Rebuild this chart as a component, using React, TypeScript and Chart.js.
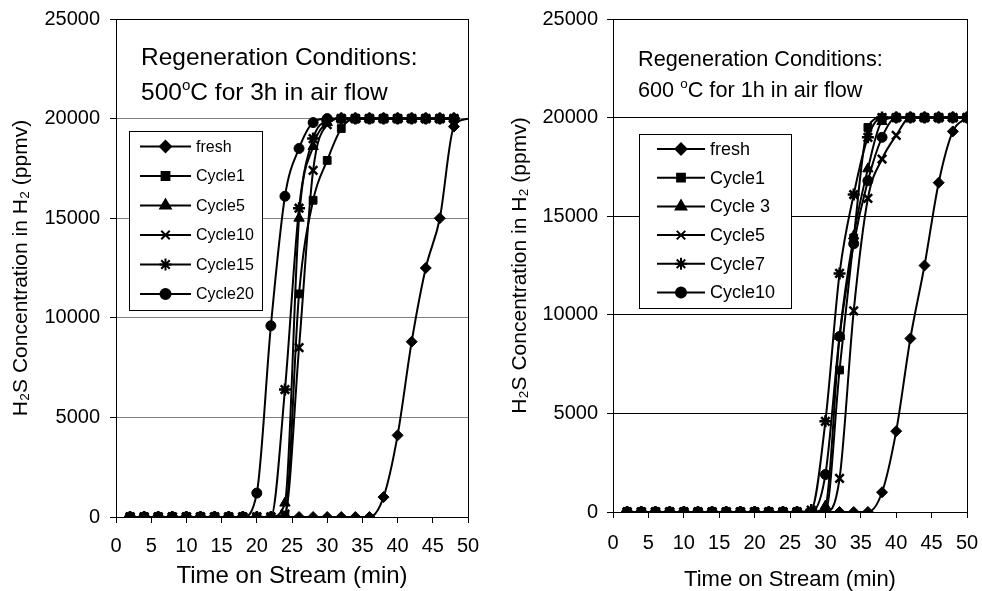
import React, { useEffect, useRef } from "react";
import { Chart, registerables } from "chart.js";
import { drawPoint } from "chart.js/helpers";

Chart.register(...registerables);

// ---------------- data ----------------
const leftTimes = [2, 4, 6, 8, 10, 12, 14, 16, 18, 20, 22, 24, 26, 28, 30, 32, 34, 36, 38, 40, 42, 44, 46, 48];
const leftFreshTimes = [2, 4, 6, 8, 10, 12, 14, 16, 18, 20, 22, 24, 26, 28, 30, 32, 34, 36, 38, 40, 42, 44, 46, 48, 50];
const leftFresh = [0, 0, 0, 0, 0, 0, 0, 0, 0, 0, 0, 0, 0, 0, 0, 0, 0, 0, 1000, 4100, 8800, 12500, 15000, 19600, 20000];
const leftCycle1 = [0, 0, 0, 0, 0, 0, 0, 0, 0, 0, 0, 100, 11200, 15900, 17900, 19500, 20000, 20000, 20000, 20000, 20000, 20000, 20000, 20000];
const leftCycle5 = [0, 0, 0, 0, 0, 0, 0, 0, 0, 0, 0, 700, 15000, 18600, 19800, 20000, 20000, 20000, 20000, 20000, 20000, 20000, 20000, 20000];
const leftCycle10 = [0, 0, 0, 0, 0, 0, 0, 0, 0, 0, 0, 150, 8500, 17400, 19700, 20000, 20000, 20000, 20000, 20000, 20000, 20000, 20000, 20000];
const leftCycle15 = [0, 0, 0, 0, 0, 0, 0, 0, 0, 0, 0, 6400, 15500, 19000, 19900, 20000, 20000, 20000, 20000, 20000, 20000, 20000, 20000, 20000];
const leftCycle20 = [0, 0, 0, 0, 0, 0, 0, 0, 0, 1200, 9600, 16100, 18500, 19800, 20000, 20000, 20000, 20000, 20000, 20000, 20000, 20000, 20000, 20000];
const leftLabels = ["fresh", "Cycle1", "Cycle5", "Cycle10", "Cycle15", "Cycle20"];

const rightTimes = [2, 4, 6, 8, 10, 12, 14, 16, 18, 20, 22, 24, 26, 28, 30, 32, 34, 36, 38, 40, 42, 44, 46, 48, 50];
const rightFresh = [0, 0, 0, 0, 0, 0, 0, 0, 0, 0, 0, 0, 0, 0, 0, 0, 0, 0, 1000, 4100, 8800, 12500, 16700, 19300, 20000];
const rightCycle1 = [0, 0, 0, 0, 0, 0, 0, 0, 0, 0, 0, 0, 0, 0, 0, 7200, 13900, 19500, 20000, 20000, 20000, 20000, 20000, 20000, 20000];
const rightCycle3 = [0, 0, 0, 0, 0, 0, 0, 0, 0, 0, 0, 0, 0, 0, 300, 8900, 14000, 17400, 19800, 20000, 20000, 20000, 20000, 20000, 20000];
const rightCycle5 = [0, 0, 0, 0, 0, 0, 0, 0, 0, 0, 0, 0, 0, 0, 0, 1700, 10200, 15900, 17900, 19100, 20000, 20000, 20000, 20000, 20000];
const rightCycle7 = [0, 0, 0, 0, 0, 0, 0, 0, 0, 0, 0, 0, 0, 100, 4600, 12100, 16100, 19000, 20000, 20000, 20000, 20000, 20000, 20000, 20000];
const rightCycle10 = [0, 0, 0, 0, 0, 0, 0, 0, 0, 0, 0, 0, 0, 0, 1900, 8900, 13600, 16800, 19000, 20000, 20000, 20000, 20000, 20000, 20000];
const rightLabels = ["fresh", "Cycle1", "Cycle 3", "Cycle5", "Cycle7", "Cycle10"];

const xTickMin = 0;
const xTickMax = 50;
const xTickStep = 5;
const yTickMin = 0;
const yTickMax = 25000;
const yTickStep = 5000;

const annotLine1 = "Regeneration Conditions:";
const leftAnnotPrefix = "500";
const leftAnnotSuffix = "C for 3h in air flow";
const rightAnnotPrefix = "600 ";
const rightAnnotSuffix = "C for 1h in air flow";
const xTitle = "Time on Stream (min)";
const yTitle = "H\u2082S Concentration in H\u2082 (ppmv)";

const FONT = '"Liberation Sans", Arial, Helvetica, sans-serif';
const markerStyles: any[] = ["rectRot", "rect", "triangle", "crossRot", "star", "circle"];
const markerRadius = [5.5, 5.5, 6, 6, 6, 5];
const markerBorder = [1, 1, 1, 2.5, 2.5, 1];

function pts(xs: number[], ys: number[]) {
  return ys.map((y, i) => ({ x: xs[i], y }));
}

const boxLegend = {
  id: "boxLegend",
  afterDatasetsDraw(chart: any, _a: any, o: any) {
    const ctx = chart.ctx;
    ctx.save();
    ctx.fillStyle = "#fff";
    ctx.fillRect(o.x, o.y, o.w, o.h);
    ctx.strokeStyle = "#000";
    ctx.lineWidth = 1;
    ctx.strokeRect(o.x + 0.5, o.y + 0.5, o.w, o.h);
    chart.data.datasets.forEach((ds: any, i: number) => {
      const ry = o.rowY0 + i * o.rowGap;
      ctx.strokeStyle = "#000";
      ctx.fillStyle = "#000";
      ctx.lineWidth = 2;
      ctx.beginPath();
      ctx.moveTo(o.lineX0, ry);
      ctx.lineTo(o.lineX1, ry);
      ctx.stroke();
      drawPoint(
        ctx,
        { pointStyle: ds.pointStyle, radius: markerRadius[i], borderWidth: markerBorder[i], rotation: 0 } as any,
        (o.lineX0 + o.lineX1) / 2,
        ry
      );
      ctx.fillStyle = "#000";
      ctx.font = `${o.size}px ${FONT}`;
      ctx.textAlign = "left";
      ctx.textBaseline = "middle";
      ctx.fillText(ds.label, o.textX, ry + 1);
    });
    ctx.restore();
  },
};

const frameAndText = {
  id: "frameAndText",
  afterDraw(chart: any, _a: any, o: any) {
    const ctx = chart.ctx;
    const ca = chart.chartArea;
    ctx.save();
    ctx.strokeStyle = "#000";
    ctx.lineWidth = 1;
    ctx.strokeRect(Math.round(ca.left) + 0.5, Math.round(ca.top) + 0.5, Math.round(ca.right - ca.left), Math.round(ca.bottom - ca.top));
    ctx.fillStyle = "#000";
    ctx.textAlign = "left";
    ctx.textBaseline = "alphabetic";
    ctx.font = `${o.size}px ${FONT}`;
    ctx.fillText(annotLine1, o.x, o.y1);
    let cx = o.x;
    ctx.fillText(o.prefix, cx, o.y2);
    cx += ctx.measureText(o.prefix).width;
    ctx.font = `${o.size * 0.62}px ${FONT}`;
    ctx.fillText("o", cx, o.y2 - o.size * 0.42);
    cx += ctx.measureText("o").width;
    ctx.font = `${o.size}px ${FONT}`;
    ctx.fillText(o.suffix, cx, o.y2);
    ctx.restore();
  },
};

type Cfg = {
  series: number[][];
  seriesTimes: number[][];
  labels: string[];
  hideLastFresh: boolean;
  yWidth: number;
  xHeight: number;
  padRight: number;
  padTop: number;
  gridColor: string;
  yTitlePad: number;
  yTickPad: number;
  xTickPad: number;
  xTitlePad: number;
  xTitleSize: number;
  legend: any;
  annot: any;
};

function ChartPanel({ cfg, width, height }: { cfg: Cfg; width: number; height: number }) {
  const ref = useRef<HTMLCanvasElement>(null);
  useEffect(() => {
    if (!ref.current) return;
    const datasets = cfg.series.map((s, i) => ({
      label: cfg.labels[i],
      data: pts(cfg.seriesTimes[i], s),
      borderColor: "#000",
      backgroundColor: "#000",
      borderWidth: 2,
      pointStyle: markerStyles[i],
      pointRadius: s.map((_, j) => (i === 0 && cfg.hideLastFresh && j === s.length - 1 ? 0 : markerRadius[i])),
      pointBorderWidth: markerBorder[i],
      pointBorderColor: "#000",
      pointBackgroundColor: "#000",
      tension: 0.4,
      cubicInterpolationMode: "monotone" as const,
      fill: false,
    }));
    const chart = new Chart(ref.current, {
      type: "line",
      data: { datasets },
      options: {
        animation: false,
        responsive: false,
        devicePixelRatio: 1,
        layout: { padding: { left: 0, right: cfg.padRight, top: cfg.padTop, bottom: 0 } },
        plugins: {
          legend: { display: false },
          tooltip: { enabled: false },
          boxLegend: cfg.legend,
          frameAndText: cfg.annot,
        } as any,
        scales: {
          x: {
            type: "linear",
            min: xTickMin,
            max: xTickMax,
            afterFit: (s: any) => {
              s.height = cfg.xHeight;
              s.paddingLeft = 0;
              s.paddingRight = 0;
            },
            ticks: { stepSize: xTickStep, color: "#000", font: { size: 20, family: FONT }, padding: cfg.xTickPad, maxRotation: 0 },
            grid: { drawOnChartArea: false, tickLength: 6, tickColor: "#000", color: "#000" },
            border: { color: "#000", width: 1 },
            title: {
              display: true,
              text: xTitle,
              color: "#000",
              font: { size: cfg.xTitleSize, family: FONT, lineHeight: 1 },
              padding: { top: 0, bottom: cfg.xTitlePad },
            },
          },
          y: {
            type: "linear",
            min: yTickMin,
            max: yTickMax,
            afterFit: (s: any) => {
              s.width = cfg.yWidth;
              s.paddingTop = 0;
              s.paddingBottom = 0;
            },
            ticks: {
              stepSize: yTickStep,
              color: "#000",
              font: { size: 20, family: FONT },
              padding: cfg.yTickPad,
              callback: (v: any) => String(v),
            },
            grid: { color: cfg.gridColor, tickLength: 6, tickColor: "#000", lineWidth: 1 },
            border: { color: "#000", width: 1 },
            title: { display: true, text: yTitle, color: "#000", font: { size: 21, family: FONT }, padding: { top: cfg.yTitlePad, bottom: 0 } },
          },
        },
      },
      plugins: [boxLegend, frameAndText],
    });
    return () => chart.destroy();
  }, [cfg]);
  return <canvas ref={ref} width={width} height={height} style={{ display: "block", width, height }} />;
}

const leftCfg: Cfg = {
  series: [leftFresh, leftCycle1, leftCycle5, leftCycle10, leftCycle15, leftCycle20],
  seriesTimes: [leftFreshTimes, leftTimes, leftTimes, leftTimes, leftTimes, leftTimes],
  labels: leftLabels,
  hideLastFresh: true,
  yWidth: 116,
  xHeight: 74,
  padRight: 22,
  padTop: 19,
  gridColor: "#808080",
  yTitlePad: 9,
  yTickPad: 10,
  xTickPad: 11,
  xTitlePad: 3,
  xTitleSize: 24,
  legend: { x: 129, y: 131, w: 133, h: 179, rowY0: 146.5, rowGap: 29.5, lineX0: 140, lineX1: 191, textX: 196, size: 16 },
  annot: { x: 141, y1: 65, y2: 100, size: 24.5, prefix: leftAnnotPrefix, suffix: leftAnnotSuffix },
};

const rightCfg: Cfg = {
  series: [rightFresh, rightCycle1, rightCycle3, rightCycle5, rightCycle7, rightCycle10],
  seriesTimes: [rightTimes, rightTimes, rightTimes, rightTimes, rightTimes, rightTimes],
  labels: rightLabels,
  hideLastFresh: false,
  yWidth: 123,
  xHeight: 79,
  padRight: 15,
  padTop: 19,
  gridColor: "#000",
  yTitlePad: 18,
  yTickPad: 9,
  xTickPad: 13,
  xTitlePad: 0,
  xTitleSize: 22,
  legend: { x: 149, y: 134, w: 152, h: 174, rowY0: 149, rowGap: 28.7, lineX0: 167, lineX1: 215, textX: 220, size: 18 },
  annot: { x: 148, y1: 66, y2: 97, size: 21.7, prefix: rightAnnotPrefix, suffix: rightAnnotSuffix },
};

export default function App() {
  return (
    <div style={{ position: "absolute", left: 0, top: 0, width: 982, height: 591, background: "#fff", display: "flex" }}>
      <ChartPanel cfg={leftCfg} width={490} height={591} />
      <ChartPanel cfg={rightCfg} width={492} height={591} />
    </div>
  );
}
